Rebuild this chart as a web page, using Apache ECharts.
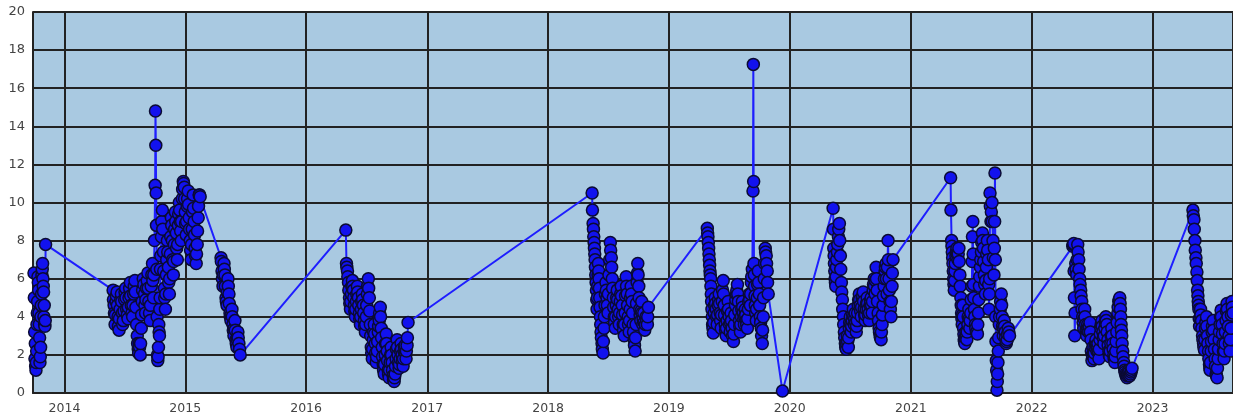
<!DOCTYPE html>
<html>
<head>
<meta charset="utf-8">
<script src="https://cdn.jsdelivr.net/npm/echarts@6/dist/echarts.min.js"></script>
<style>
html,body{margin:0;padding:0;background:#fff;}
#m1{width:1233px;height:419px;}
</style>
</head>
<body>
<div id="m1"></div>
<script>
// readings per season, [date, value]; the "b" lists are the in-between days
var s2013=[['2013-10-01',6.3],['2013-10-02',5.0],['2013-10-03',3.2],['2013-10-04',1.8],['2013-10-05',2.6],['2013-10-06',1.4],['2013-10-07',1.2],['2013-10-09',2.2],['2013-10-10',3.6],['2013-10-12',4.8],['2013-10-13',6.1],['2013-10-15',5.4],['2013-10-16',4.2],['2013-10-18',2.9],['2013-10-19',1.6],['2013-10-21',2.4],['2013-10-22',4.0],['2013-10-24',5.2],['2013-10-25',6.2],['2013-10-27',6.8],['2013-10-28',6.0],['2013-10-30',5.3],['2013-11-01',4.6],['2013-11-03',3.5],['2013-11-04',3.8],['2013-11-05',7.8]];
var s2013b=[['2013-10-08',1.6],['2013-10-11',4.2],['2013-10-14',5.8],['2013-10-17',3.6],['2013-10-20',1.9],['2013-10-23',4.6],['2013-10-26',6.5],['2013-10-29',5.6],['2013-10-31',4.0],['2013-11-02',3.6]];
var s2014=[['2014-05-28',5.4],['2014-05-31',4.6],['2014-06-03',3.6],['2014-06-06',4.8],['2014-06-09',5.3],['2014-06-12',4.0],['2014-06-15',3.3],['2014-06-18',4.4],['2014-06-22',5.2],['2014-06-25',4.2],['2014-06-28',3.8],['2014-07-02',4.9],['2014-07-05',5.5],['2014-07-08',4.4],['2014-07-12',3.9],['2014-07-15',5.0],['2014-07-19',5.8],['2014-07-22',4.6],['2014-07-26',4.0],['2014-07-29',5.2],['2014-08-02',5.9],['2014-08-05',4.5],['2014-08-09',3.0],['2014-08-12',2.3],['2014-08-15',2.6],['2014-08-18',2.0],['2014-08-21',3.4],['2014-08-24',4.8],['2014-08-27',6.0],['2014-08-31',5.2],['2014-09-03',4.2],['2014-09-06',5.5],['2014-09-10',6.3],['2014-09-13',4.8],['2014-09-17',3.8],['2014-09-20',5.6],['2014-09-24',6.8],['2014-09-27',5.0],['2014-09-30',8.0],['2014-10-02',10.9],['2014-10-03',14.8],['2014-10-04',13.0],['2014-10-05',10.5],['2014-10-06',8.8],['2014-10-07',6.5],['2014-10-08',4.0],['2014-10-09',2.0],['2014-10-10',1.7],['2014-10-12',2.4],['2014-10-13',3.6],['2014-10-15',3.0],['2014-10-17',5.0],['2014-10-18',6.5],['2014-10-21',8.2],['2014-10-24',9.6],['2014-10-27',7.4],['2014-10-30',5.5],['2014-11-02',4.4],['2014-11-05',6.2],['2014-11-08',8.0],['2014-11-11',6.6],['2014-11-14',5.2],['2014-11-17',7.3],['2014-11-20',9.2],['2014-11-23',8.0],['2014-11-26',6.2],['2014-11-29',7.8],['2014-12-02',9.5],['2014-12-05',8.4],['2014-12-08',7.0],['2014-12-11',8.8],['2014-12-14',10.0],['2014-12-17',9.0],['2014-12-20',8.0],['2014-12-23',10.2],['2014-12-26',11.1],['2014-12-29',10.8],['2015-01-01',9.5],['2015-01-04',8.3],['2015-01-07',9.8],['2015-01-10',10.6],['2015-01-13',9.2],['2015-01-16',8.0],['2015-01-19',7.0],['2015-01-22',8.6],['2015-01-25',10.4],['2015-01-28',9.0],['2015-01-31',7.6],['2015-02-03',6.8],['2015-02-06',7.8],['2015-02-09',9.2],['2015-02-12',10.4],['2015-02-15',10.3]];
var s2014b=[['2014-05-29',4.9],['2014-06-01',4.2],['2014-06-04',4.1],['2014-06-07',5.1],['2014-06-10',4.6],['2014-06-13',3.5],['2014-06-16',3.9],['2014-06-20',4.9],['2014-06-23',4.8],['2014-06-26',3.6],['2014-06-30',4.3],['2014-07-03',5.3],['2014-07-06',5.0],['2014-07-10',4.1],['2014-07-13',4.5],['2014-07-17',5.5],['2014-07-20',5.1],['2014-07-24',4.2],['2014-07-27',4.6],['2014-07-31',5.6],['2014-08-03',5.3],['2014-08-07',3.6],['2014-08-10',2.6],['2014-08-13',2.1],['2014-08-16',2.4],['2014-08-19',2.6],['2014-08-22',4.1],['2014-08-25',5.4],['2014-08-29',5.7],['2014-09-01',4.6],['2014-09-04',4.9],['2014-09-08',5.9],['2014-09-11',5.5],['2014-09-15',4.2],['2014-09-18',4.6],['2014-09-22',6.2],['2014-09-25',5.9],['2014-09-28',6.2],['2014-10-11',1.9],['2014-10-14',3.2],['2014-10-16',4.4],['2014-10-19',7.2],['2014-10-22',9.0],['2014-10-25',8.6],['2014-10-28',6.4],['2014-10-31',5.0],['2014-11-03',5.2],['2014-11-06',7.0],['2014-11-09',7.4],['2014-11-12',5.8],['2014-11-15',6.0],['2014-11-18',8.2],['2014-11-21',8.8],['2014-11-24',7.0],['2014-11-27',6.9],['2014-11-30',8.6],['2014-12-03',9.0],['2014-12-06',7.6],['2014-12-09',7.8],['2014-12-12',9.4],['2014-12-15',9.6],['2014-12-18',8.5],['2014-12-21',9.0],['2014-12-24',10.7],['2014-12-27',11.0],['2014-12-30',10.2],['2015-01-02',8.9],['2015-01-05',9.0],['2015-01-08',10.2],['2015-01-11',9.9],['2015-01-14',8.6],['2015-01-17',7.5],['2015-01-20',7.8],['2015-01-23',9.5],['2015-01-26',9.7],['2015-01-29',8.3],['2015-02-01',7.2],['2015-02-04',7.3],['2015-02-07',8.5],['2015-02-10',9.8],['2015-02-13',10.4]];
var s2015=[['2015-04-19',7.1],['2015-04-22',6.4],['2015-04-25',5.6],['2015-04-28',6.8],['2015-05-01',6.2],['2015-05-04',5.0],['2015-05-07',4.6],['2015-05-10',6.0],['2015-05-13',5.2],['2015-05-16',4.2],['2015-05-19',3.8],['2015-05-22',4.4],['2015-05-25',3.6],['2015-05-28',3.0],['2015-05-31',3.8],['2015-06-03',2.8],['2015-06-06',2.4],['2015-06-09',3.2],['2015-06-12',2.6],['2015-06-16',2.0]];
var s2015b=[['2015-04-20',6.9],['2015-04-23',6.0],['2015-04-26',6.2],['2015-04-29',6.5],['2015-05-02',5.6],['2015-05-05',4.8],['2015-05-08',5.3],['2015-05-11',5.6],['2015-05-14',4.7],['2015-05-17',4.0],['2015-05-20',4.1],['2015-05-23',4.0],['2015-05-26',3.3],['2015-05-29',3.4],['2015-06-01',3.3],['2015-06-04',2.6],['2015-06-07',2.8],['2015-06-10',2.9],['2015-06-14',2.3]];
var s2016=[['2016-04-30',8.55],['2016-05-02',6.8],['2016-05-05',6.4],['2016-05-08',5.8],['2016-05-11',5.0],['2016-05-14',4.4],['2016-05-17',5.2],['2016-05-20',5.9],['2016-05-23',5.4],['2016-05-26',4.6],['2016-05-29',4.0],['2016-06-01',4.8],['2016-06-04',5.6],['2016-06-07',5.0],['2016-06-10',4.2],['2016-06-13',3.6],['2016-06-16',4.4],['2016-06-19',5.2],['2016-06-22',4.6],['2016-06-25',3.8],['2016-06-28',3.2],['2016-07-01',4.0],['2016-07-04',5.2],['2016-07-07',6.0],['2016-07-10',5.0],['2016-07-13',3.6],['2016-07-16',2.4],['2016-07-19',1.8],['2016-07-22',2.8],['2016-07-25',3.6],['2016-07-28',2.6],['2016-07-31',1.6],['2016-08-03',2.2],['2016-08-06',3.2],['2016-08-09',3.8],['2016-08-12',4.5],['2016-08-15',3.4],['2016-08-18',2.4],['2016-08-21',1.5],['2016-08-24',1.0],['2016-08-27',2.0],['2016-08-30',3.1],['2016-09-02',2.2],['2016-09-05',1.2],['2016-09-08',0.8],['2016-09-11',1.6],['2016-09-14',2.4],['2016-09-17',1.6],['2016-09-20',0.9],['2016-09-23',0.6],['2016-09-26',1.0],['2016-09-29',1.8],['2016-10-02',2.8],['2016-10-05',2.0],['2016-10-08',1.3],['2016-10-11',1.8],['2016-10-14',2.6],['2016-10-17',2.0],['2016-10-20',1.4],['2016-10-23',2.2],['2016-10-26',2.5],['2016-10-29',1.8],['2016-11-01',2.5],['2016-11-04',3.7]];
var s2016b=[['2016-05-03',6.6],['2016-05-06',6.1],['2016-05-09',5.4],['2016-05-12',4.7],['2016-05-15',4.8],['2016-05-18',5.6],['2016-05-21',5.6],['2016-05-24',5.0],['2016-05-27',4.3],['2016-05-30',4.4],['2016-06-02',5.2],['2016-06-05',5.3],['2016-06-08',4.6],['2016-06-11',3.9],['2016-06-14',4.0],['2016-06-17',4.8],['2016-06-20',4.9],['2016-06-23',4.2],['2016-06-26',3.5],['2016-06-29',3.6],['2016-07-02',4.6],['2016-07-05',5.6],['2016-07-08',5.5],['2016-07-11',4.3],['2016-07-14',3.0],['2016-07-17',2.1],['2016-07-20',2.3],['2016-07-23',3.2],['2016-07-26',3.1],['2016-07-29',2.1],['2016-08-01',1.9],['2016-08-04',2.7],['2016-08-07',3.5],['2016-08-10',4.2],['2016-08-13',4.0],['2016-08-16',2.9],['2016-08-19',1.9],['2016-08-22',1.2],['2016-08-25',1.5],['2016-08-28',2.6],['2016-08-31',2.6],['2016-09-03',1.7],['2016-09-06',1.0],['2016-09-09',1.2],['2016-09-12',2.0],['2016-09-15',2.0],['2016-09-18',1.2],['2016-09-21',0.7],['2016-09-24',0.8],['2016-09-27',1.4],['2016-09-30',2.3],['2016-10-03',2.4],['2016-10-06',1.6],['2016-10-09',1.5],['2016-10-12',2.2],['2016-10-15',2.3],['2016-10-18',1.7],['2016-10-21',1.8],['2016-10-24',2.4],['2016-10-27',2.1],['2016-10-30',2.2],['2016-11-02',2.9]];
var s2018=[['2018-05-14',10.5],['2018-05-17',8.9],['2018-05-19',8.2],['2018-05-21',7.6],['2018-05-23',7.0],['2018-05-25',6.2],['2018-05-27',5.4],['2018-05-29',4.4],['2018-05-31',5.6],['2018-06-02',6.8],['2018-06-04',6.0],['2018-06-06',5.0],['2018-06-08',4.0],['2018-06-10',3.2],['2018-06-13',2.6],['2018-06-16',2.1],['2018-06-19',3.4],['2018-06-22',4.6],['2018-06-25',5.8],['2018-06-28',5.0],['2018-07-01',4.2],['2018-07-04',6.2],['2018-07-08',7.9],['2018-07-11',7.1],['2018-07-14',6.0],['2018-07-17',5.0],['2018-07-20',4.0],['2018-07-23',3.4],['2018-07-26',4.6],['2018-07-29',5.4],['2018-08-01',4.4],['2018-08-04',3.6],['2018-08-07',4.8],['2018-08-10',5.6],['2018-08-13',4.6],['2018-08-16',3.6],['2018-08-19',3.0],['2018-08-22',4.2],['2018-08-25',6.1],['2018-08-28',5.2],['2018-08-31',4.0],['2018-09-03',3.2],['2018-09-06',4.4],['2018-09-09',5.6],['2018-09-12',4.8],['2018-09-15',3.6],['2018-09-18',2.8],['2018-09-21',2.2],['2018-09-24',3.6],['2018-09-27',5.8],['2018-09-29',6.8],['2018-10-02',5.6],['2018-10-05',4.4],['2018-10-08',3.8],['2018-10-11',4.8],['2018-10-14',3.6],['2018-10-17',4.2],['2018-10-20',3.3],['2018-10-24',4.0],['2018-10-28',3.6],['2018-10-31',4.5]];
var s2018b=[['2018-05-15',9.6],['2018-05-18',8.6],['2018-05-20',7.9],['2018-05-22',7.3],['2018-05-24',6.6],['2018-05-26',5.8],['2018-05-28',4.9],['2018-05-30',5.0],['2018-06-01',6.2],['2018-06-03',6.4],['2018-06-05',5.5],['2018-06-07',4.5],['2018-06-09',3.6],['2018-06-11',2.9],['2018-06-14',2.3],['2018-06-17',2.7],['2018-06-20',4.0],['2018-06-23',5.2],['2018-06-26',5.4],['2018-06-29',4.6],['2018-07-02',5.2],['2018-07-06',7.0],['2018-07-09',7.5],['2018-07-12',6.6],['2018-07-15',5.5],['2018-07-18',4.5],['2018-07-21',3.7],['2018-07-24',4.0],['2018-07-27',5.0],['2018-07-30',4.9],['2018-08-02',4.0],['2018-08-05',4.2],['2018-08-08',5.2],['2018-08-11',5.1],['2018-08-14',4.1],['2018-08-17',3.3],['2018-08-20',3.6],['2018-08-23',5.1],['2018-08-26',5.6],['2018-08-29',4.6],['2018-09-01',3.6],['2018-09-04',3.8],['2018-09-07',5.0],['2018-09-10',5.2],['2018-09-13',4.2],['2018-09-16',3.2],['2018-09-19',2.5],['2018-09-22',2.9],['2018-09-25',4.7],['2018-09-28',6.3],['2018-09-30',6.2],['2018-10-03',5.0],['2018-10-06',4.1],['2018-10-09',4.3],['2018-10-12',4.2],['2018-10-15',3.9],['2018-10-18',3.7],['2018-10-22',3.6],['2018-10-26',3.8],['2018-10-29',4.0]];
var s2019=[['2019-04-27',8.65],['2019-04-29',8.2],['2019-05-01',7.6],['2019-05-03',7.0],['2019-05-05',6.4],['2019-05-07',6.0],['2019-05-09',5.2],['2019-05-11',4.4],['2019-05-13',3.6],['2019-05-15',3.15],['2019-05-18',4.2],['2019-05-21',5.0],['2019-05-24',4.4],['2019-05-27',3.6],['2019-05-30',4.6],['2019-06-02',5.2],['2019-06-05',4.2],['2019-06-08',3.4],['2019-06-11',4.8],['2019-06-14',5.9],['2019-06-17',4.6],['2019-06-20',3.6],['2019-06-23',3.0],['2019-06-26',3.8],['2019-06-29',4.8],['2019-07-02',4.0],['2019-07-05',3.2],['2019-07-08',4.2],['2019-07-11',3.4],['2019-07-15',2.7],['2019-07-18',3.6],['2019-07-21',4.6],['2019-07-24',5.2],['2019-07-27',5.7],['2019-07-30',4.8],['2019-08-02',3.8],['2019-08-05',3.2],['2019-08-08',4.0],['2019-08-11',4.8],['2019-08-14',4.2],['2019-08-17',3.6],['2019-08-20',4.4],['2019-08-23',3.8],['2019-08-26',3.4],['2019-08-29',4.4],['2019-09-01',5.2],['2019-09-04',4.6],['2019-09-07',5.8],['2019-09-10',6.5],['2019-09-12',10.6],['2019-09-13',17.25],['2019-09-14',11.1],['2019-09-15',6.8],['2019-09-17',5.6],['2019-09-19',4.6],['2019-09-22',3.8],['2019-09-25',5.0],['2019-09-28',6.4],['2019-10-01',5.2],['2019-10-04',4.0],['2019-10-07',3.4],['2019-10-10',2.6],['2019-10-13',4.0],['2019-10-16',6.0],['2019-10-19',7.6],['2019-10-22',7.2],['2019-10-25',6.4],['2019-10-28',5.2],['2019-12-10',0.1]];
var s2019b=[['2019-04-28',8.4],['2019-04-30',7.9],['2019-05-02',7.3],['2019-05-04',6.7],['2019-05-06',6.2],['2019-05-08',5.6],['2019-05-10',4.8],['2019-05-12',4.0],['2019-05-14',3.4],['2019-05-16',3.7],['2019-05-19',4.6],['2019-05-22',4.7],['2019-05-25',4.0],['2019-05-28',4.1],['2019-05-31',4.9],['2019-06-03',4.7],['2019-06-06',3.8],['2019-06-09',4.1],['2019-06-12',5.4],['2019-06-15',5.2],['2019-06-18',4.1],['2019-06-21',3.3],['2019-06-24',3.4],['2019-06-27',4.3],['2019-06-30',4.4],['2019-07-03',3.6],['2019-07-06',3.7],['2019-07-09',3.8],['2019-07-12',3.0],['2019-07-16',3.1],['2019-07-19',4.1],['2019-07-22',4.9],['2019-07-25',5.4],['2019-07-28',5.2],['2019-07-31',4.3],['2019-08-03',3.5],['2019-08-06',3.6],['2019-08-09',4.4],['2019-08-12',4.5],['2019-08-15',3.9],['2019-08-18',4.0],['2019-08-21',4.1],['2019-08-24',3.6],['2019-08-27',3.9],['2019-08-30',4.8],['2019-09-02',4.9],['2019-09-05',5.2],['2019-09-08',6.1],['2019-09-16',6.2],['2019-09-18',5.1],['2019-09-20',4.2],['2019-09-23',4.4],['2019-09-26',5.7],['2019-09-29',5.8],['2019-10-02',4.6],['2019-10-05',3.7],['2019-10-08',3.0],['2019-10-11',3.3],['2019-10-14',5.0],['2019-10-17',6.8],['2019-10-20',7.4],['2019-10-23',6.8],['2019-10-26',5.8]];
var s2020=[['2020-05-11',9.7],['2020-05-13',7.6],['2020-05-15',6.8],['2020-05-17',6.0],['2020-05-19',5.6],['2020-05-21',6.6],['2020-05-24',7.4],['2020-05-27',8.2],['2020-05-30',8.9],['2020-06-02',7.2],['2020-06-05',5.8],['2020-06-08',4.9],['2020-06-11',4.0],['2020-06-14',3.2],['2020-06-17',2.6],['2020-06-20',2.3],['2020-06-23',3.0],['2020-06-26',2.4],['2020-06-29',3.4],['2020-07-02',4.0],['2020-07-05',3.2],['2020-07-08',3.8],['2020-07-11',4.4],['2020-07-14',3.6],['2020-07-17',4.2],['2020-07-20',3.2],['2020-07-23',3.8],['2020-07-26',4.6],['2020-07-29',5.2],['2020-08-01',4.6],['2020-08-04',4.0],['2020-08-07',5.0],['2020-08-10',5.3],['2020-08-13',4.4],['2020-08-16',3.8],['2020-08-19',4.4],['2020-08-22',5.0],['2020-08-25',4.4],['2020-08-28',3.8],['2020-08-31',4.6],['2020-09-03',5.0],['2020-09-06',4.2],['2020-09-09',5.4],['2020-09-12',6.0],['2020-09-15',5.2],['2020-09-18',6.6],['2020-09-21',5.4],['2020-09-24',4.2],['2020-09-27',3.4],['2020-09-30',3.0],['2020-10-03',2.8],['2020-10-06',3.6],['2020-10-09',4.6],['2020-10-12',5.6],['2020-10-15',6.4],['2020-10-18',6.8],['2020-10-21',5.2],['2020-10-24',8.0],['2020-10-27',6.0],['2020-10-30',4.8],['2020-11-02',4.0],['2020-11-05',5.6],['2020-11-08',7.0]];
var s2020b=[['2020-05-12',8.6],['2020-05-14',7.2],['2020-05-16',6.4],['2020-05-18',5.8],['2020-05-20',6.1],['2020-05-22',7.0],['2020-05-25',7.8],['2020-05-28',8.6],['2020-05-31',8.0],['2020-06-03',6.5],['2020-06-06',5.3],['2020-06-09',4.4],['2020-06-12',3.6],['2020-06-15',2.9],['2020-06-18',2.4],['2020-06-21',2.6],['2020-06-24',2.7],['2020-06-27',2.9],['2020-06-30',3.7],['2020-07-03',3.6],['2020-07-06',3.5],['2020-07-09',4.1],['2020-07-12',4.0],['2020-07-15',3.9],['2020-07-18',3.7],['2020-07-21',3.5],['2020-07-24',4.2],['2020-07-27',4.9],['2020-07-30',4.9],['2020-08-02',4.3],['2020-08-05',4.5],['2020-08-08',5.1],['2020-08-11',4.8],['2020-08-14',4.1],['2020-08-17',4.1],['2020-08-20',4.7],['2020-08-23',4.7],['2020-08-26',4.1],['2020-08-29',4.2],['2020-09-01',4.8],['2020-09-04',4.6],['2020-09-07',4.8],['2020-09-10',5.7],['2020-09-13',5.6],['2020-09-16',5.9],['2020-09-19',6.0],['2020-09-22',4.8],['2020-09-25',3.8],['2020-09-28',3.2],['2020-10-01',2.9],['2020-10-04',3.2],['2020-10-07',4.1],['2020-10-10',5.1],['2020-10-13',6.0],['2020-10-16',6.6],['2020-10-19',6.0],['2020-10-22',6.6],['2020-10-25',7.0],['2020-10-28',5.4],['2020-10-31',4.4],['2020-11-03',4.8],['2020-11-06',6.3]];
var s2021=[['2021-05-01',11.3],['2021-05-04',8.0],['2021-05-06',7.4],['2021-05-08',6.8],['2021-05-10',6.0],['2021-05-12',5.4],['2021-05-14',6.4],['2021-05-17',7.2],['2021-05-20',7.6],['2021-05-23',7.0],['2021-05-26',7.6],['2021-05-29',6.2],['2021-06-01',5.0],['2021-06-03',4.2],['2021-06-05',3.6],['2021-06-07',4.6],['2021-06-09',3.4],['2021-06-11',2.8],['2021-06-13',2.6],['2021-06-16',3.2],['2021-06-19',2.8],['2021-06-22',3.6],['2021-06-25',4.4],['2021-06-28',3.4],['2021-07-01',4.2],['2021-07-04',5.6],['2021-07-06',8.2],['2021-07-07',9.0],['2021-07-09',5.7],['2021-07-12',4.4],['2021-07-15',3.6],['2021-07-18',3.2],['2021-07-21',3.1],['2021-07-24',4.2],['2021-07-27',5.6],['2021-07-30',6.6],['2021-08-02',7.4],['2021-08-05',8.4],['2021-08-08',7.6],['2021-08-11',6.2],['2021-08-14',5.2],['2021-08-17',6.6],['2021-08-20',8.0],['2021-08-23',7.0],['2021-08-25',4.4],['2021-08-27',6.0],['2021-08-28',10.5],['2021-08-31',9.0],['2021-09-03',10.0],['2021-09-06',8.0],['2021-09-09',6.2],['2021-09-11',9.0],['2021-09-12',11.55],['2021-09-13',7.0],['2021-09-14',4.0],['2021-09-15',2.7],['2021-09-16',1.7],['2021-09-17',1.2],['2021-09-18',0.15],['2021-09-20',1.0],['2021-09-22',2.2],['2021-09-25',3.6],['2021-09-28',4.4],['2021-10-01',5.2],['2021-10-04',4.0],['2021-10-07',3.0],['2021-10-10',3.8],['2021-10-13',3.2],['2021-10-16',2.6],['2021-10-19',2.8],['2021-10-22',3.4],['2021-10-26',3.0]];
var s2021b=[['2021-05-02',9.6],['2021-05-05',7.7],['2021-05-07',7.1],['2021-05-09',6.4],['2021-05-11',5.7],['2021-05-13',5.9],['2021-05-15',6.8],['2021-05-18',7.4],['2021-05-21',7.3],['2021-05-24',7.3],['2021-05-27',6.9],['2021-05-30',5.6],['2021-06-02',4.6],['2021-06-04',3.9],['2021-06-06',4.1],['2021-06-08',4.0],['2021-06-10',3.1],['2021-06-12',2.7],['2021-06-14',2.9],['2021-06-17',3.0],['2021-06-20',3.2],['2021-06-23',4.0],['2021-06-26',3.9],['2021-06-29',3.8],['2021-07-02',4.9],['2021-07-05',6.9],['2021-07-08',7.3],['2021-07-10',5.0],['2021-07-13',4.0],['2021-07-16',3.4],['2021-07-19',3.2],['2021-07-22',3.6],['2021-07-25',4.9],['2021-07-28',6.1],['2021-07-31',7.0],['2021-08-03',7.9],['2021-08-06',8.0],['2021-08-09',6.9],['2021-08-12',5.7],['2021-08-15',5.9],['2021-08-18',7.3],['2021-08-21',7.5],['2021-08-24',5.7],['2021-08-26',5.2],['2021-08-29',9.8],['2021-09-01',9.5],['2021-09-04',9.0],['2021-09-07',7.1],['2021-09-10',7.6],['2021-09-19',0.6],['2021-09-21',1.6],['2021-09-23',2.9],['2021-09-26',4.0],['2021-09-29',4.8],['2021-10-02',4.6],['2021-10-05',3.5],['2021-10-08',3.4],['2021-10-11',3.5],['2021-10-14',2.9],['2021-10-17',2.7],['2021-10-20',3.1],['2021-10-24',3.2]];
var s2022=[['2022-05-05',7.7],['2022-05-08',7.85],['2022-05-10',5.0],['2022-05-11',3.0],['2022-05-14',6.8],['2022-05-17',6.2],['2022-05-20',7.8],['2022-05-23',7.0],['2022-05-26',6.0],['2022-05-29',5.4],['2022-06-01',4.8],['2022-06-04',4.0],['2022-06-07',3.4],['2022-06-10',4.4],['2022-06-13',3.6],['2022-06-16',3.0],['2022-06-19',3.6],['2022-06-22',3.2],['2022-06-26',3.7],['2022-06-29',2.8],['2022-07-02',1.7],['2022-07-05',2.4],['2022-07-08',1.8],['2022-07-11',2.4],['2022-07-14',2.8],['2022-07-17',2.2],['2022-07-20',2.6],['2022-07-23',1.8],['2022-07-26',2.8],['2022-07-29',3.4],['2022-08-01',3.8],['2022-08-04',3.2],['2022-08-07',2.6],['2022-08-10',3.4],['2022-08-13',4.0],['2022-08-16',3.6],['2022-08-19',2.8],['2022-08-22',2.2],['2022-08-25',1.9],['2022-08-28',2.6],['2022-08-31',3.4],['2022-09-03',2.6],['2022-09-06',2.0],['2022-09-09',1.6],['2022-09-12',2.2],['2022-09-15',3.2],['2022-09-18',4.2],['2022-09-21',4.8],['2022-09-24',5.0],['2022-09-26',4.4],['2022-09-28',3.6],['2022-09-30',3.0],['2022-10-03',2.2],['2022-10-06',1.6],['2022-10-09',1.2],['2022-10-12',1.0],['2022-10-15',0.85],['2022-10-18',0.9],['2022-10-21',1.2],['2022-10-24',0.9],['2022-10-28',1.1],['2022-10-31',1.3]];
var s2022b=[['2022-05-06',7.8],['2022-05-09',6.4],['2022-05-12',4.2],['2022-05-15',6.5],['2022-05-18',7.0],['2022-05-21',7.4],['2022-05-24',6.5],['2022-05-27',5.7],['2022-05-30',5.1],['2022-06-02',4.4],['2022-06-05',3.7],['2022-06-08',3.9],['2022-06-11',4.0],['2022-06-14',3.3],['2022-06-17',3.3],['2022-06-20',3.4],['2022-06-24',3.5],['2022-06-27',3.2],['2022-06-30',2.2],['2022-07-03',2.0],['2022-07-06',2.1],['2022-07-09',2.1],['2022-07-12',2.6],['2022-07-15',2.5],['2022-07-18',2.4],['2022-07-21',2.2],['2022-07-24',2.3],['2022-07-27',3.1],['2022-07-30',3.6],['2022-08-02',3.5],['2022-08-05',2.9],['2022-08-08',3.0],['2022-08-11',3.7],['2022-08-14',3.8],['2022-08-17',3.2],['2022-08-20',2.5],['2022-08-23',2.0],['2022-08-26',2.2],['2022-08-29',3.0],['2022-09-01',3.0],['2022-09-04',2.3],['2022-09-07',1.8],['2022-09-10',1.9],['2022-09-13',2.7],['2022-09-16',3.7],['2022-09-19',4.5],['2022-09-22',4.9],['2022-09-25',4.7],['2022-09-27',4.0],['2022-09-29',3.3],['2022-10-01',2.6],['2022-10-04',1.9],['2022-10-07',1.4],['2022-10-10',1.1],['2022-10-13',0.9],['2022-10-16',0.8],['2022-10-19',1.0],['2022-10-22',1.1],['2022-10-26',1.0],['2022-10-29',1.2]];
var s2023=[['2023-05-03',9.6],['2023-05-06',9.1],['2023-05-09',8.0],['2023-05-12',7.1],['2023-05-15',6.35],['2023-05-17',5.4],['2023-05-19',4.8],['2023-05-21',4.4],['2023-05-23',3.5],['2023-05-26',4.4],['2023-05-29',3.8],['2023-06-01',3.0],['2023-06-04',2.6],['2023-06-07',2.25],['2023-06-10',3.4],['2023-06-13',4.0],['2023-06-16',3.0],['2023-06-19',2.2],['2023-06-22',1.5],['2023-06-24',1.2],['2023-06-27',2.2],['2023-06-30',3.2],['2023-07-03',3.8],['2023-07-06',2.8],['2023-07-09',1.8],['2023-07-12',1.0],['2023-07-15',0.8],['2023-07-18',1.8],['2023-07-21',2.8],['2023-07-24',3.6],['2023-07-27',4.35],['2023-07-30',3.6],['2023-08-02',2.6],['2023-08-05',1.8],['2023-08-08',2.6],['2023-08-11',3.8],['2023-08-14',4.7],['2023-08-17',4.0],['2023-08-20',3.0],['2023-08-23',2.2],['2023-08-26',3.4],['2023-08-29',4.8],['2023-09-01',4.2]];
var s2023b=[['2023-05-04',9.3],['2023-05-07',8.6],['2023-05-10',7.5],['2023-05-13',6.8],['2023-05-16',5.9],['2023-05-18',5.1],['2023-05-20',4.6],['2023-05-22',3.9],['2023-05-24',3.9],['2023-05-27',4.1],['2023-05-30',3.4],['2023-06-02',2.8],['2023-06-05',2.4],['2023-06-08',2.8],['2023-06-11',3.7],['2023-06-14',3.5],['2023-06-17',2.6],['2023-06-20',1.8],['2023-06-23',1.3],['2023-06-25',1.6],['2023-06-28',2.7],['2023-07-01',3.5],['2023-07-04',3.3],['2023-07-07',2.3],['2023-07-10',1.4],['2023-07-13',0.9],['2023-07-16',1.3],['2023-07-19',2.3],['2023-07-22',3.2],['2023-07-25',4.0],['2023-07-28',4.0],['2023-07-31',3.1],['2023-08-03',2.2],['2023-08-06',2.2],['2023-08-09',3.2],['2023-08-12',4.3],['2023-08-15',4.4],['2023-08-18',3.5],['2023-08-21',2.6],['2023-08-24',2.8],['2023-08-27',4.1],['2023-08-30',4.5]];

var xStart='2013-09-28', xEnd='2023-09-01';
var yTicks=[0,2,4,6,8,10,12,14,16,18,20];

var allData=[].concat(s2013,s2013b,s2014,s2014b,s2015,s2015b,s2016,s2016b,s2018,s2018b,
    s2019,s2019b,s2020,s2020b,s2021,s2021b,s2022,s2022b,s2023,s2023b);
allData.sort(function(a,b){return new Date(a[0])-new Date(b[0]);});
var YEAR=365*24*3600*1000;

var myChart=echarts.init(document.getElementById('m1'));
var option={
    animation:false,
    grid:{
        left:33,top:12,right:-2,bottom:26,
        show:true,backgroundColor:'#a9c9e1',borderWidth:0
    },
    xAxis:{
        type:'time',
        min:xStart,max:xEnd,
        minInterval:YEAR,maxInterval:YEAR+24*3600*1000,
        axisLine:{show:true,lineStyle:{color:'#222',width:2}},
        axisTick:{show:false},
        splitLine:{show:true,lineStyle:{color:'#222',width:2}},
        axisLabel:{
            color:'#444',fontSize:12.5,fontFamily:'DejaVu Sans',margin:9,
            showMinLabel:false,showMaxLabel:false,
            formatter:function(v){return String(new Date(v).getFullYear());}
        }
    },
    yAxis:{
        type:'value',
        min:yTicks[0],max:yTicks[yTicks.length-1],interval:2,
        axisLine:{show:true,lineStyle:{color:'#222',width:2}},
        axisTick:{show:false},
        splitLine:{show:true,lineStyle:{color:'#222',width:2}},
        axisLabel:{color:'#444',fontSize:13,fontFamily:'DejaVu Sans',margin:8}
    },
    series:[
        {
        type:'line',
        data:allData,
        showSymbol:true,
        showAllSymbol:true,
        symbol:'circle',
        symbolSize:12,
        lineStyle:{color:'#1e1eff',width:2},
        itemStyle:{color:'#1212ee',borderColor:'#0b0b33',borderWidth:1.5}
        }
    ]
};
myChart.setOption(option);
</script>
</body>
</html>
